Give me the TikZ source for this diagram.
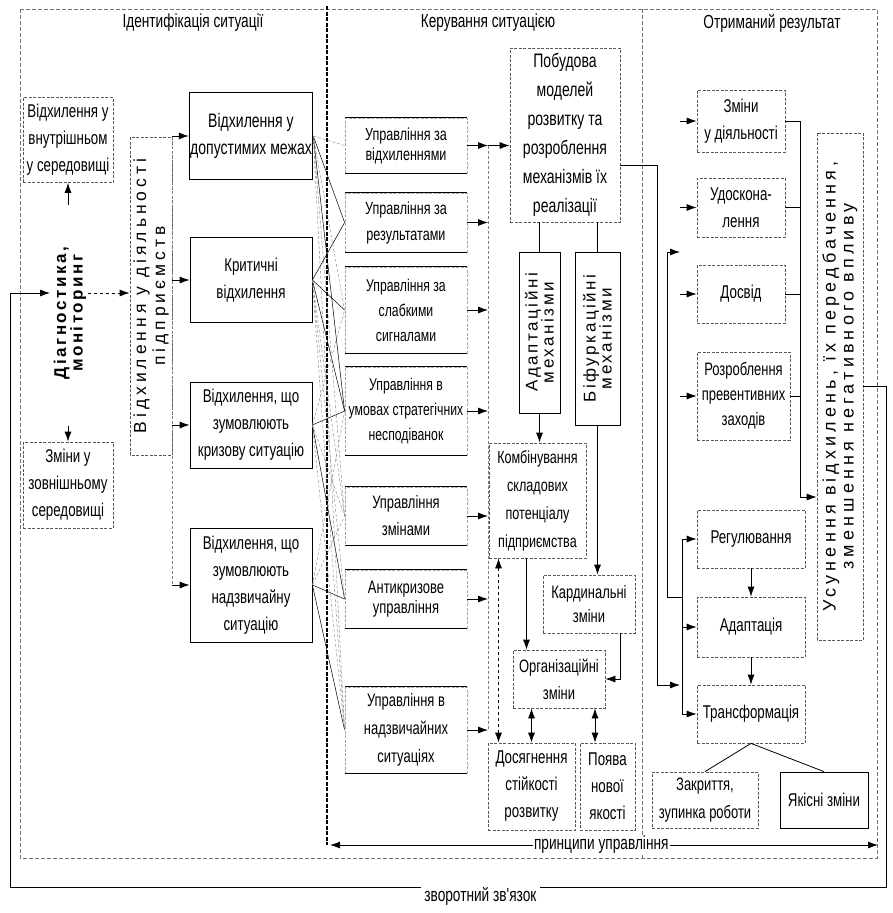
\documentclass[tikz,border=0pt]{standalone}
\usepackage{fontspec}
\setmainfont{Liberation Sans}
\newfontfamily\narrow{Liberation Sans}[FakeStretch=0.72]
\newfontfamily\wide{Liberation Sans}[LetterSpace=15]
\newfontfamily\wider{Liberation Sans}[LetterSpace=23]
\usetikzlibrary{arrows.meta}

\tikzset{
  sbox/.style={draw, line width=0.8pt, align=center, inner sep=1pt,
    font=\narrow\fontsize{18.5}{27}\selectfont},
  dashy/.style={draw=black!65, dash pattern=on 3pt off 1.5pt},
  dbox/.style={sbox, dashy},
  ubox/.style={dbox, draw=black!35, minimum width=122pt,
    font=\narrow\fontsize{17}{25}\selectfont,
    append after command={(\tikzlastnode.north west) edge[solid, draw=black, line width=0.7pt] (\tikzlastnode.north east)
      (\tikzlastnode.south west) edge[solid, draw=black, line width=0.7pt] (\tikzlastnode.south east)}},
  vbox/.style={sbox, rotate=90, font=\wide\fontsize{16}{16}\selectfont},
  head/.style={font=\narrow\fontsize{19}{20}\selectfont},
  frame/.style={draw=black!55, line width=0.5pt, dash pattern=on 4pt off 2pt},
  link/.style={line width=0.8pt},
  cross/.style={line width=0.5pt},
  crossd/.style={line width=0.4pt, draw=black!50, dash pattern=on 3pt off 2pt},
}

\begin{document}
\begin{tikzpicture}[x=1pt, y=-1pt, >={Latex[length=10pt,width=7pt]}]
  \useasboundingbox (0,0) rectangle (893,913);

  \draw[frame] (20,9) rectangle (877,858);
  \draw[frame] (642,9) -- (642,858);
  \draw[line width=1.1pt, dash pattern=on 4pt off 1.5pt] (327,6) -- (327,845);

  \node[head] (hid)  at (193,23) {Ідентифікація ситуації};
  \node[head] (hker) at (488,23) {Керування ситуацією};
  \node[head] (hotr) at (772,23) {Отриманий результат};

  \node[dbox, minimum width=90pt, minimum height=85pt] (vin) at (68,140) {Відхилення у\\внутрішньом\\у середовищі};
  \node[vbox, draw=none, font=\wide\bfseries\fontsize{17}{15}\selectfont] (diag) at (70,313) {Діагностика,\\моніторинг};
  \node[dbox, minimum width=90pt, minimum height=86pt] (vout) at (68,485) {Зміни у\\зовнішньому\\середовищі};
  \node[vbox, dashy, minimum width=318pt, minimum height=42pt, font=\wider\fontsize{17.5}{19}\selectfont] (vdev) at (151,296) {Відхилення у діяльності\\підприємств};

  \node[sbox, minimum width=122pt, minimum height=87pt, font=\narrow\fontsize{19.5}{27}\selectfont]  (d1) at (251,136) {Відхилення у\\допустимих межах};
  \node[sbox, minimum width=122pt, minimum height=85pt]  (d2) [below of=d1, node distance=144pt] {Критичні\\відхилення};
  \node[sbox, minimum width=122pt, minimum height=86pt]  (d3) [below of=d2, node distance=145pt] {Відхилення, що\\зумовлюють\\кризову ситуацію};
  \node[sbox, minimum width=122pt, minimum height=114pt] (d4) [below of=d3, node distance=160pt] {Відхилення, що\\зумовлюють\\надзвичайну\\ситуацію};

  \node[ubox, minimum height=55pt, font=\narrow\fontsize{17.5}{20}\selectfont] (u1) at (406,145.5) {Управління за\\відхиленнями};
  \node[ubox, minimum height=59pt, font=\narrow\fontsize{17.5}{26}\selectfont] (u2) [below of=u1, node distance=77pt]  {Управління за\\результатами};
  \node[ubox, minimum height=86pt] (u3) [below of=u2, node distance=87.5pt] {Управління за\\слабкими\\сигналами};
  \node[ubox, minimum height=88pt] (u4) [below of=u3, node distance=101pt] {Управління в\\умовах стратегічних\\несподіванок};
  \node[ubox, minimum height=58pt, font=\narrow\fontsize{18}{27}\selectfont] (u5) [below of=u4, node distance=105pt] {Управління\\змінами};
  \node[ubox, minimum height=58pt, font=\narrow\fontsize{18}{20}\selectfont] (u6) [below of=u5, node distance=83pt] {Антикризове\\управління};
  \node[ubox, minimum height=86pt, font=\narrow\fontsize{18}{28}\selectfont] (u7) [below of=u6, node distance=131pt] {Управління в\\надзвичайних\\ситуаціях};

  \node[dbox, minimum width=110pt, minimum height=174pt, font=\narrow\fontsize{19.5}{29}\selectfont] (pob) at (565,135) {Побудова\\моделей\\розвитку та\\розроблення\\механізмів їх\\реалізації};
  \node[vbox, minimum width=161pt, minimum height=41pt, font=\wide\fontsize{17}{16}\selectfont] (adm) at (539.5,332.5) {Адаптаційні\\механізми};
  \node[vbox, minimum width=173pt, minimum height=45pt, font=\wide\fontsize{17}{16}\selectfont] (bif) at (597.5,338.5) {Біфуркаційні\\механізми};
  \node[dbox, minimum width=97pt, minimum height=115pt, font=\narrow\fontsize{17.5}{28}\selectfont] (komb) at (537.5,500.5) {Комбінування\\складових\\потенціалу\\підприємства};
  \node[dbox, minimum width=92pt, minimum height=58pt, font=\narrow\fontsize{18}{24}\selectfont] (kard) at (589,604) {Кардинальні\\зміни};
  \node[dbox, minimum width=92pt, minimum height=58pt, font=\narrow\fontsize{18}{27}\selectfont] (org) at (559,679) {Організаційні\\зміни};
  \node[dbox, minimum width=87pt, minimum height=87pt] (dos) at (531.5,786.5) {Досягнення\\стійкості\\розвитку};
  \node[dbox, minimum width=55pt, minimum height=87pt] (poy) [right of=dos, node distance=76pt] {Поява\\нової\\якості};

  \node[dbox, minimum width=88pt, minimum height=62pt] (zm) at (741,121) {Зміни\\у діяльності};
  \node[dbox, minimum width=88pt, minimum height=59pt] (ud) [below of=zm, node distance=86.5pt] {Удоскона-\\лення};
  \node[dbox, minimum width=88pt, minimum height=58pt] (dosv) [below of=ud, node distance=86.5pt] {Досвід};
  \node[dbox, minimum width=93pt, minimum height=88pt, font=\narrow\fontsize{18}{25}\selectfont] (roz) at (743.5,396) {Розроблення\\превентивних\\заходів};
  \node[dbox, minimum width=108pt, minimum height=58pt] (reg) at (751,539) {Регулювання};
  \node[dbox, minimum width=108pt, minimum height=60pt] (ada) [below of=reg, node distance=88pt] {Адаптація};
  \node[dbox, minimum width=108pt, minimum height=58pt] (tra) [below of=ada, node distance=87pt] {Трансформація};
  \node[dbox, minimum width=106pt, minimum height=56pt, font=\narrow\fontsize{18}{28}\selectfont] (zak) at (705,800) {Закриття,\\зупинка роботи};
  \node[sbox, minimum width=88pt, minimum height=56pt] (yak) [right of=zak, node distance=119pt] {Якісні зміни};
  \node[vbox, dashy, minimum width=507pt, minimum height=46pt, font=\wider\fontsize{18}{18}\selectfont] (usun) at (840,386.5) {Усунення відхилень, їх передбачення,\\зменшення негативного впливу};

  \coordinate (vbus) at (172,0);
  \coordinate (ubus) at (488,0);
  \coordinate (rin)  at (680,0);
  \coordinate (cb)   at (682,0);
  \coordinate (rout) at (800,497);
  \coordinate (pa)   at ([yshift=-30pt]pob.east);
  \coordinate (la)   at (657,685);
  \coordinate (lt)   at (680,685);
  \coordinate (bj)   at (667,597);
  \coordinate (bt)   at (680,252);
  \coordinate (ko)   at ([xshift=-11pt]komb.south);
  \coordinate (kd)   at ([xshift=-39pt]komb.south);
  \coordinate (ka)   at ([xshift=31pt]kard.south);
  \coordinate (op)   at ([xshift=36pt]org.south);
  \coordinate (pl)   at (330,845);
  \coordinate (pr)   at (878,845);
  \coordinate (fbr)  at (886,887);
  \coordinate (fbl)  at (10,887);
  \coordinate (fbin) at (50,293);

  \draw[link, ->, shorten <=40pt] (vin.south |- diag.east) -- (vin.south);
  \draw[link, ->, shorten <=45pt] (vout.north |- diag.west) -- (vout.north);
  \draw[link, ->, dashed] ([yshift=20pt]diag.south) -- ([yshift=20pt]diag.south -| vdev.north);

  \draw[crossd] (vbus |- d1.west) -- (vbus |- d4.west);
  \path[link, ->] (vbus |- d1.west) edge (d1.west)
                  (vbus |- d2.west) edge (d2.west)
                  (vbus |- d3.west) edge (d3.west)
                  (vbus |- d4.west) edge (d4.west);

  \path[cross] (d1.east) edge (u2.west) edge (u4.west)
               (d2.east) edge (u2.west) edge (u3.west) edge (u4.west)
               (d3.east) edge (u4.west) edge (u6.west)
               (d4.east) edge (u6.west) edge (u7.west);
  \path[crossd] (d1.east) edge (u1.west) edge (u3.west) edge (u5.west) edge (u7.west)
                (d2.east) edge (u5.west) edge (u6.west) edge (u7.west)
                (d3.east) edge (u3.west) edge (u5.west) edge (u7.west)
                (d4.east) edge (u4.west) edge (u5.west);

  \draw[crossd] (ubus |- u1.east) -- (ubus |- u7.east);
  \path[link, ->] (u1.east) edge (u1.east -| ubus)
                  (u2.east) edge (u2.east -| ubus)
                  (u3.east) edge (u3.east -| ubus)
                  (u4.east) edge (u4.east -| ubus)
                  (u5.east) edge (u5.east -| ubus)
                  (u6.east) edge (u6.east -| ubus)
                  (u7.east) edge (u7.east -| ubus);
  \draw[link, ->] (ubus |- u1.east) -- (pob.west |- u1.east);

  \draw[link] (pob.south -| adm.east) -- (adm.east);
  \draw[link] (pob.south -| bif.east) -- (bif.east);
  \draw[link, ->] (adm.west) -- (adm.west |- komb.north);
  \draw[link, ->] (bif.west) -- (bif.west |- kard.north);
  \draw[link, ->] (ko) -- (ko |- org.north);
  \draw[link, ->] (ka) |- (org.east);
  \draw[link, <->] (org.south -| dos.north) -- (dos.north);
  \draw[link, <->] (op) -- (op |- poy.north);
  \draw[link, <->, dashed] (kd) -- (kd |- dos.north);

  \draw[link, ->] (pa) -| (la) -- (lt);
  \draw[link, ->] (bj -| cb) -- (bj) |- (bt);
  \draw[link] (cb |- reg.west) -- (cb |- tra.west);
  \path[link, ->] (cb |- reg.west) edge (reg.west)
                  (cb |- ada.west) edge (ada.west)
                  (cb |- tra.west) edge (tra.west);
  \draw[link, ->] (reg) -- (ada);
  \draw[link, ->] (ada) -- (tra);
  \draw[link] (tra.south) -- (zak.north);
  \draw[link] (tra.south) -- (yak.north);

  \path[link, ->] (rin |- zm.west) edge (zm.west)
                  (rin |- ud.west) edge (ud.west)
                  (rin |- dosv.west) edge (dosv.west)
                  (rin |- roz.west) edge (roz.west);
  \draw[cross] (zm.east) -| (rout);
  \draw[cross] (ud.east) -- (ud.east -| rout);
  \draw[cross] (dosv.east) -- (dosv.east -| rout);
  \draw[cross] (roz.east) -- (roz.east -| rout);
  \draw[link, ->] (rout) -- (rout -| usun.north);

  \draw[link, <->] (pl) -- node[head, fill=white, inner sep=1pt, pos=0.495] {принципи управління} (pr);
  \draw[link, ->] (usun.south) -| (fbr) -- node[head, fill=white, pos=0.463, yshift=-9pt, inner ysep=6pt] {зворотний зв'язок} (fbl) |- (fbin);
\end{tikzpicture}
\end{document}
